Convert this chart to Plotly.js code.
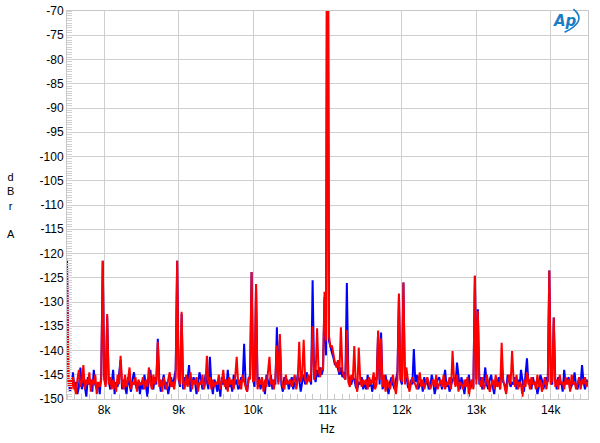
<!DOCTYPE html>
<html>
<head>
<meta charset="utf-8">
<script src="https://cdn.plot.ly/plotly-3.0.1.min.js"></script>
<style>html,body{margin:0;padding:0;background:#fff}#chart{width:600px;height:443px}</style>
</head>
<body>
<div id="chart"></div>
<script>
// Frequency grid: 7500 Hz to 14500 Hz, 20 Hz bins
const freqStart = 7500;
const freqStep = 20;

const tickValues = [8000, 9000, 10000, 11000, 12000, 13000, 14000];
const tickLabels = ["8k", "9k", "10k", "11k", "12k", "13k", "14k"];

const yTickValues = [-150,-145,-140,-135,-130,-125,-120,-115,-110,-105,-100,-95,-90,-85,-80,-75,-70];
const yTickLabels = ["-150","-145","-140","-135","-130","-125","-120","-115","-110","-105","-100","-95","-90","-85","-80","-75","-70"];

// Blue channel (dBr A)
const blueLevels = [
  -121.3,-146,-148.5,-147,-144.5,-148,-146.5,-149,-147.5,-143.5,-148,-146,-147.5,-149.5,-145.5,-147,-146,-148.5,-144,-147,-148,-146.5,-149,-145,-121.5,
  -145.5,-147,-133,-146,-148,-147,-144,-149,-146.5,-147.5,-145,-142,-148,-146,-147.5,-149,-145.5,-147,-148.5,-146,-144.5,-147,-148,-146.5,-149,
  -146.5,-148,-145,-147,-149.5,-146,-144,-147.5,-148,-145.5,-147,-137.6,-146,-148.5,-147,-145,-148,-146.5,-149,-147,-145.5,-147.5,-146,-144,-121.5,
  -146,-147.5,-132.5,-148,-145.5,-147,-146,-143,-148.5,-147,-145.5,-146.5,-149,-147,-144.5,-146,-148,-147.5,-145,-146.5,-148,-141.3,-147,-149,-146,
  -147,-148.5,-146,-149.5,-145.5,-147,-146,-148,-144,-147.5,-146.5,-148.5,-145,-147,-146,-148,-147.5,-145.5,-146.5,-138.6,-147,-148.5,-146,-145,-123.8,
  -146,-147.5,-126.3,-147,-145.5,-148,-146.5,-147,-149,-145,-146.5,-147.5,-145,-148,-146,-147,-135.2,-146.5,-138,-147,-148.5,-145.5,-147,-146,-148,
  -147,-145.5,-148,-146.5,-147,-145,-146,-148.5,-146.5,-145,-147,-144.5,-146,-145.5,-147,-125.5,-145,-146.5,-144,-145.5,-143.5,-145,-144,-129,-141,
  -10,-138,-139.5,-140.5,-141.5,-143,-142.5,-144,-145,-143.5,-145.5,-144.5,-146,-126.1,-145,-146.5,-147,-145.5,-146,-147.5,-148,-146.5,-147,-145.5,-148,
  -146.5,-148,-145,-147.5,-146,-148.5,-147,-145.5,-146,-136.2,-147,-136.3,-148,-146,-145,-147.5,-149,-146.5,-145.5,-147,-148,-146,-144.5,-128.3,-146,
  -147,-126,-146.5,-145,-147.5,-148,-146,-147,-139.7,-146.5,-145,-148,-147,-146,-148.5,-145.5,-147,-146,-148,-147.5,-145,-146.5,-149,-147,-146,
  -145.5,-147,-148,-146,-144,-147.5,-146.5,-148.5,-147,-146,-145.5,-147,-142.5,-146,-148,-145.5,-147.5,-149,-146,-147,-145,-148,-146.5,-147.5,-124.6,
  -146,-131.5,-147,-145.5,-148,-146.5,-143.5,-147,-148,-146,-145,-147.5,-149,-146,-147,-145.5,-148,-142.5,-146.5,-147,-148.5,-145,-146,-147.5,-146.5,
  -147,-145.5,-148,-146,-147.5,-144,-146.5,-148.5,-145,-141.6,-147,-146,-148,-145.5,-147,-146.5,-149,-147.5,-145,-146,-148,-147,-145.5,-146.5,-123.5,
  -146.5,-147,-133.2,-146,-148,-145.5,-147,-146.5,-148.5,-144,-147,-146,-145.5,-148,-147,-146.5,-144.5,-147.5,-148,-146,-147,-143,-146.5,-148,-146,
  -147
];

// Red channel (dBr A)
const redLevels = [
  -122,-147.5,-146,-148,-145.5,-147,-149,-146,-144,-147.5,-146.5,-143,-148,-146,-147,-144.5,-148.5,-146,-147,-145,-149,-146.5,-147.5,-146,-121.5,
  -146,-147.5,-132.5,-147,-145.5,-148,-146,-147,-148.5,-145,-147,-141.1,-146.5,-148,-145,-147.5,-146,-143.5,-148,-146.5,-147,-145.5,-148.5,-146,-147,
  -147,-145.5,-148,-146,-147.5,-143.5,-146.5,-148,-145,-147,-146,-138.2,-147.5,-146,-148.5,-145.5,-147,-148,-146,-144.5,-147.5,-146.5,-148,-145.5,-121.5,
  -145.5,-147,-132,-146.5,-148,-145,-147.5,-146,-144.5,-148,-146,-147,-145.5,-148.5,-146.5,-147,-145,-148,-146.5,-141.1,-147,-145.5,-148,-146,-147.5,
  -146.5,-147,-145,-148,-146.5,-144,-147.5,-146,-148.5,-145.5,-147,-146,-148,-145.5,-141.3,-147,-146,-148,-145,-146.5,-147.5,-148.5,-145.5,-146,-123.8,
  -146.5,-146,-126.3,-148,-146,-147,-145.5,-148.5,-146,-147.5,-144.5,-141.3,-147,-146,-148,-145.5,-139,-147,-136.6,-146,-147.5,-148,-145,-147,-146.5,
  -146,-147.5,-146.5,-145,-148,-146,-138.2,-146.5,-145,-137.8,-146,-147,-145,-146.5,-144.5,-135,-146,-145,-135.4,-144,-145.5,-143.5,-144,-127.9,-138,
  -10,-137,-139.3,-139,-141,-142.5,-143.5,-142,-144.5,-135.2,-144,-145.5,-146,-135.8,-146.5,-147.5,-145,-146,-139.1,-147,-148.5,-139.4,-146,-147.5,-146,
  -147,-146,-148,-145.5,-147,-146.5,-144.5,-148,-147,-135.9,-146,-137.5,-147.5,-145,-148.5,-146,-147,-148,-146.5,-145,-147.5,-149,-146,-128.3,-145.5,
  -146.5,-126,-147,-143.5,-146,-148.5,-147,-145.5,-146.5,-147,-148,-146,-144.5,-147.5,-146,-148,-147,-145.5,-146.5,-148,-147,-146,-147.5,-145,-148,
  -147,-146,-147.5,-145,-148,-146.5,-147,-145.5,-148,-140.1,-146,-147.5,-145,-148.5,-146.5,-147,-148,-146,-147.5,-145.5,-149.5,-147,-146,-148,-124.6,
  -147,-131.9,-146,-147.5,-145.5,-148,-147,-145,-146.5,-148.5,-147,-146,-148,-145,-147.5,-146.5,-148,-138.4,-146,-147.5,-149,-146.5,-145,-147,-140.1,
  -146,-147.5,-145,-148,-146.5,-147,-149.5,-146,-147.5,-144.5,-146,-148,-145.5,-147,-146.5,-148,-145,-147.5,-146,-148.5,-147,-145.5,-148,-146,-123.5,
  -147,-146,-133.2,-147.5,-146,-148,-145,-147,-146.5,-148,-145.5,-147,-146,-148.5,-145,-147,-146.5,-148,-147,-145.5,-148,-146,-147,-145.5,-147.5,
  -146.5
];

const freqs = blueLevels.map((_, i) => freqStart + i * freqStep);

const traces = [
  {x: freqs, y: blueLevels, type: 'scatter', mode: 'lines', line: {color: '#0000ff', width: 2}, hoverinfo: 'skip'},
  {x: freqs, y: redLevels, type: 'scatter', mode: 'lines', line: {color: '#ff0000', width: 2}, hoverinfo: 'skip'}
];

const layout = {
  width: 600, height: 443,
  margin: {l: 67, r: 12, t: 11, b: 44},
  paper_bgcolor: '#fff', plot_bgcolor: '#fff',
  showlegend: false,
  font: {family: 'Liberation Sans, Arial, sans-serif', size: 12, color: '#000'},
  xaxis: {
    range: [7500, 14500], tickmode: 'array', tickvals: tickValues, ticktext: tickLabels,
    showgrid: true, gridcolor: '#cfcfcf', gridwidth: 1, zeroline: false,
    showline: true, linecolor: '#c8c8c8', mirror: true, ticks: '',
    minor: {dtick: 100, ticks: 'inside', ticklen: 5, tickcolor: '#c8c8c8', showgrid: false},
    title: {text: 'Hz', font: {size: 12}, standoff: 8},
    tickfont: {size: 12}
  },
  yaxis: {
    range: [-150, -70], tickmode: 'array', tickvals: yTickValues, ticktext: yTickLabels,
    showgrid: true, gridcolor: '#cfcfcf', gridwidth: 1, zeroline: false,
    showline: true, linecolor: '#c8c8c8', mirror: true, ticks: '',
    minor: {dtick: 0.5, tick0: -150, ticks: 'inside', ticklen: 5, tickcolor: '#d0d0d0', showgrid: false},
    tickfont: {size: 12}
  },
  annotations: [
    {xref: 'paper', yref: 'paper', x: -0.108, y: 0.498, xanchor: 'center', yanchor: 'middle',
     text: 'd<br>B<br>r<br><br>A', showarrow: false, font: {size: 11}, align: 'center'},
    {xref: 'paper', yref: 'paper', x: 0.955, y: 0.975, xanchor: 'center', yanchor: 'middle',
     text: '<b><i>Ap</i></b>', showarrow: false, font: {size: 15, color: '#1b7cc4', family: 'DejaVu Sans'}}
  ],
  shapes: [
    {type: 'path', xref: 'paper', yref: 'paper',
     path: 'M 0.972,1.005 Q 1.0,0.975 0.955,0.945', line: {color: '#1b7cc4', width: 1.6}}
  ]
};

Plotly.newPlot('chart', traces, layout, {staticPlot: true, displayModeBar: false});
</script>
</body>
</html>
